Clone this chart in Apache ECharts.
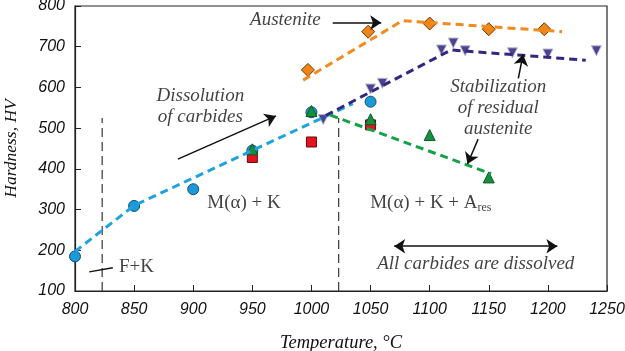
<!DOCTYPE html>
<html>
<head>
<meta charset="utf-8">
<script src="https://cdn.jsdelivr.net/npm/echarts@6/dist/echarts.min.js"></script>
<style>
  html, body { margin: 0; padding: 0; background: #fff; }
  #chart { width: 625px; height: 351px; }
</style>
</head>
<body>
<div id="chart"></div>
<script>
// measured points (temperature °C, hardness HV)
const circlePts   = [[800, 185], [850, 309], [900, 350], [950, 445], [1000, 539], [1050, 565]];
const squarePts   = [[950, 428], [1000, 466], [1050, 508]];
const greenPts    = [[950, 448], [1000, 542], [1050, 522], [1100, 483], [1150, 379]];
const diamondPts  = [[997, 643], [1048, 737], [1100, 757], [1150, 743], [1197, 743]];
const purplePts   = [[1010, 521], [1050, 596], [1060, 610], [1110, 692], [1120, 709],
                     [1130, 690], [1170, 685], [1200, 682], [1241, 690]];

// trend lines
const blueTrend   = [[800, 197], [850, 310], [1035, 560]];
const orangeTrend = [[993, 618], [1077, 764], [1212, 737]];
const purpleTrend = [[1012, 531], [1118, 692], [1232, 667]];
const greenTrend  = [[1016, 532], [1152, 388]];

// phase boundaries
const boundary1 = [[823, 100], [823, 525]];
const boundary2 = [[1023, 100], [1023, 525]];

// annotation arrows [from, to, double-headed]
const arrows = [
  [[887, 424], [970, 530], false],
  [[1018, 759], [1059, 759], false],
  [[1175, 622], [1179, 681], false],
  [[1141, 473], [1132, 412], false],
  [[1070, 210], [1208, 210], true],
  [[812, 147], [832, 157], null]
];

// annotation texts [T, HV, text, italic]
const notes = [
  [978, 765, 'Austenite', true],
  [906, 552, 'Dissolution\nof carbides', true],
  [1158, 549, 'Stabilization\nof residual\naustenite', true],
  [943, 316, 'M(α) + K', false],
  [1101, 316, 'M(α) + K + A{sub|res}', false],
  [1139, 166, 'All carbides are dissolved', true],
  [852, 159, 'F+K', false]
];

const serif = 'Liberation Serif';
const chart = echarts.init(document.getElementById('chart'));

function trend(data, color) {
  return {
    type: 'line', data, symbol: 'none', silent: true,
    lineStyle: { color, width: 3, type: [8, 5] }
  };
}
function boundary(data) {
  return {
    type: 'line', data, symbol: 'none', silent: true,
    lineStyle: { color: '#444', width: 1.3, type: [9, 5] }
  };
}
function pts(data, symbol, size, color, border, rotate) {
  return {
    type: 'scatter', data, symbol, symbolSize: size, symbolRotate: rotate || 0,
    itemStyle: { color, borderColor: border, borderWidth: 1, opacity: 1 }
  };
}

chart.setOption({
  animation: false,
  grid: { left: 75, right: 18, top: 6, bottom: 60, containLabel: false, outerBoundsMode: 'none',
          show: true, borderColor: '#222', borderWidth: 1.2 },
  xAxis: {
    type: 'value', min: 800, max: 1250, interval: 50,
    name: 'Temperature, °C', nameLocation: 'middle', nameGap: 43,
    nameTextStyle: { fontFamily: serif, fontStyle: 'italic', fontSize: 18.5, color: '#111' },
    axisLine: { lineStyle: { color: '#222', width: 1.2 } },
    axisTick: { inside: true, length: 6, lineStyle: { color: '#222' } },
    axisLabel: { fontFamily: 'Liberation Sans', fontStyle: 'italic', fontSize: 16, color: '#111', margin: 11,
                 formatter: v => String(v) },
    splitLine: { show: false }
  },
  yAxis: {
    type: 'value', min: 100, max: 800, interval: 100,
    name: 'Hardness, HV', nameLocation: 'middle', nameGap: 55,
    nameTextStyle: { fontFamily: serif, fontStyle: 'italic', fontSize: 17.5, color: '#111' },
    axisLine: { lineStyle: { color: '#222', width: 1.2 } },
    axisTick: { inside: true, length: 6, lineStyle: { color: '#222' } },
    axisLabel: { fontFamily: 'Liberation Sans', fontStyle: 'italic', fontSize: 16, color: '#111', margin: 10 },
    splitLine: { show: false }
  },
  series: [
    boundary(boundary1),
    boundary(boundary2),
    trend(blueTrend, '#1fa3e0'),
    trend(orangeTrend, '#f28a1e'),
    trend(purpleTrend, '#35277f'),
    trend(greenTrend, '#17a04a'),
    pts(circlePts, 'circle', 11, '#1a9ad8', '#14506f'),
    pts(squarePts, 'rect', 10, '#e3141d', '#6a0a0a'),
    pts(greenPts, 'triangle', 11, '#14903f', '#0d5a27'),
    pts(purplePts, 'triangle', 10, '#4a4490', '#b8b6cc', 180),
    pts(diamondPts, 'diamond', 13, '#ef8417', '#6a3a05'),
    {
      type: 'line', data: [], silent: true,
      markLine: {
        silent: true, animation: false, label: { show: false },
        lineStyle: { color: '#111', width: 1.5, type: 'solid' },
        symbolSize: 11,
        data: arrows.map(([a, b, dbl]) => [
          { coord: a, symbol: dbl ? 'arrow' : 'none' },
          { coord: b, symbol: dbl === null ? 'none' : 'arrow' }
        ])
      }
    },
    {
      type: 'scatter', symbolSize: 0, silent: true,
      data: notes.map(([t, v, txt, it]) => ({
        value: [t, v],
        label: {
          show: true, position: 'inside', formatter: txt,
          fontFamily: serif, fontStyle: it ? 'italic' : 'normal',
          fontSize: 19, lineHeight: 21, color: '#111', align: 'center',
          rich: { sub: { fontFamily: serif, fontSize: 12, verticalAlign: 'bottom', padding: [8, 0, 0, 0], color: '#111' } }
        }
      }))
    }
  ]
});
window.addEventListener('resize', () => chart.resize());
</script>
</body>
</html>
